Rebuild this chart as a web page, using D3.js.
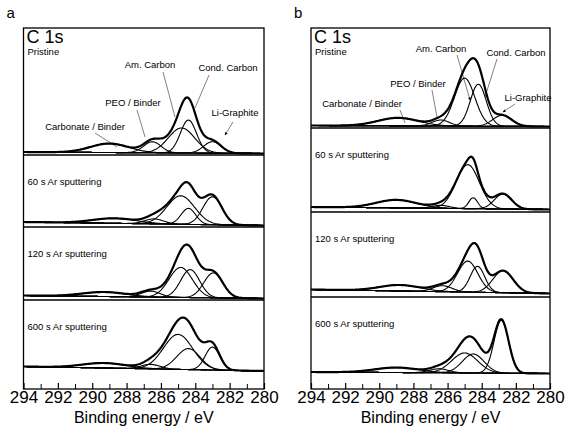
<!DOCTYPE html>
<html>
<head>
<meta charset="utf-8">
<script src="https://cdn.jsdelivr.net/npm/d3@7"></script>
<style>
  body { margin: 0; background: #fff; }
  svg { font-family: "Liberation Sans", Arial, sans-serif; }
</style>
</head>
<body>
<div id="chart"></div>
<script>
// binding energy axis
const majorTicks = [294, 292, 290, 288, 286, 284, 282, 280];
const minorTicks = [293, 291, 289, 287, 285, 283, 281];
const conditions = ["Pristine", "60 s Ar sputtering", "120 s Ar sputtering", "600 s Ar sputtering"];
const componentNames = ["Carbonate / Binder", "PEO / Binder", "Am. Carbon", "Cond. Carbon", "Li-Graphite"];

// fitted components per spectrum: [centre eV, height a.u., FWHM eV], same order as componentNames
const peaksA = [
  [[289.0, 0.9, 2.6], [286.5, 1.1, 1.2], [284.8, 2.5, 1.8], [284.4, 3.3, 1.1], [283.0, 1.15, 1.2]],
  [[288.7, 0.5, 3.0], [286.4, 0.5, 1.3], [284.85, 2.85, 1.9], [284.4, 1.6, 1.0], [283.0, 2.8, 1.3]],
  [[289.3, 0.45, 3.0], [286.6, 0.6, 1.3], [284.85, 3.0, 1.6], [284.3, 2.8, 1.3], [282.95, 2.5, 1.3]],
  [[289.3, 0.5, 3.0], [286.6, 0.45, 1.3], [285.0, 3.5, 2.0], [284.4, 2.1, 1.6], [283.0, 2.3, 1.0]]
];
const peaksB = [
  [[288.9, 0.8, 2.8], [286.4, 0.6, 1.2], [285.0, 4.8, 1.4], [284.2, 4.2, 1.1], [282.8, 1.1, 1.3]],
  [[289.0, 0.8, 2.8], [286.4, 0.3, 1.2], [284.82, 4.4, 1.6], [284.5, 1.1, 0.6], [282.75, 1.5, 1.2]],
  [[288.8, 0.6, 2.8], [286.3, 0.6, 1.3], [284.82, 3.1, 1.4], [284.25, 2.6, 1.0], [282.75, 2.2, 1.4]],
  [[289.0, 0.5, 3.0], [286.5, 0.4, 1.3], [285.0, 2.0, 1.8], [284.5, 1.9, 1.5], [282.85, 5.3, 1.0]]
];
// background level at 294 eV and 280 eV
const backgroundA = [[0.15, 0], [0.35, 0], [0.3, 0], [0.35, -0.1]];
const backgroundB = [[0.1, 0], [0.25, 0], [0.4, 0], [0.1, -0.05]];

const width = 566, height = 435;
const svg = d3.select("#chart").append("svg")
  .attr("width", width)
  .attr("height", height);

const grid = d3.range(294, 279.99, -0.05);

function gauss(e, p) {
  const d = (e - p[0]) / p[2];
  return p[1] * Math.exp(-4 * Math.LN2 * d * d);
}

function drawPanel(opt) {
  const x = d3.scaleLinear().domain([294, 280]).range([opt.left, opt.right]);
  const g = svg.append("g");
  const rows = opt.rows;
  const bottom = rows[rows.length - 1];

  opt.peaks.forEach((comps, i) => {
    const base = opt.baselines[i];
    const y = d3.scaleLinear().domain([0, 10]).range([base, base - 100]);
    const bg = opt.background[i];
    const bgAt = d3.scaleLinear().domain([294, 280]).range(bg);
    const line = d3.line().x(d => x(d[0])).y(d => y(d[1])).curve(d3.curveLinear);

    g.append("path")
      .attr("d", line(grid.map(e => [e, bgAt(e)])))
      .attr("fill", "none").attr("stroke", "#000").attr("stroke-width", 1.1);

    comps.forEach(p => {
      g.append("path")
        .attr("d", line(grid.map(e => [e, bgAt(e) + gauss(e, p)])))
        .attr("fill", "none").attr("stroke", "#000").attr("stroke-width", 1.1);
    });

    const env = grid.map(e => [e, bgAt(e) + d3.sum(comps, p => gauss(e, p))]);
    g.append("path")
      .attr("d", line(env))
      .attr("fill", "none").attr("stroke", "#000").attr("stroke-width", 2.2)
      .attr("stroke-linejoin", "round");

    g.append("text")
      .attr("x", opt.left + 4)
      .attr("y", i === 0 ? rows[0] + 27 : rows[i] + 30)
      .attr("font-size", 9.5)
      .text(conditions[i]);
  });

  // frame and dividers
  g.append("rect")
    .attr("x", opt.left).attr("y", rows[0])
    .attr("width", opt.right - opt.left).attr("height", bottom - rows[0])
    .attr("fill", "none").attr("stroke", "#000").attr("stroke-width", 1.3);
  rows.slice(1, -1).forEach(r => {
    g.append("line")
      .attr("x1", opt.left).attr("x2", opt.right)
      .attr("y1", r).attr("y2", r)
      .attr("stroke", "#000").attr("stroke-width", 1.3);
  });

  g.append("g")
    .attr("transform", `translate(0,${bottom})`)
    .call(d3.axisBottom(x).tickValues(minorTicks).tickSize(-5).tickFormat(""))
    .call(a => a.select(".domain").remove());
  const ax = g.append("g")
    .attr("transform", `translate(0,${bottom})`)
    .call(d3.axisBottom(x).tickValues(majorTicks).tickSize(-6).tickPadding(2).tickFormat(d3.format("d")));
  ax.select(".domain").remove();
  ax.selectAll("text").attr("font-size", 17).attr("font-family", "Liberation Sans, Arial, sans-serif");
  ax.selectAll("line").attr("stroke-width", 1.2);

  g.append("text")
    .attr("x", (opt.left + opt.right) / 2).attr("y", 423)
    .attr("text-anchor", "middle").attr("font-size", 16)
    .text("Binding energy / eV");

  g.append("text")
    .attr("x", opt.left - 17).attr("y", 18)
    .attr("font-size", 15)
    .text(opt.letter);
  g.append("text")
    .attr("x", opt.left + 3).attr("y", rows[0] + 15)
    .attr("font-size", 18)
    .text("C 1s");

  // component annotations on pristine spectrum
  opt.notes.forEach(n => {
    g.append("text")
      .attr("x", n.tx).attr("y", n.ty)
      .attr("text-anchor", "middle").attr("font-size", 9.5)
      .text(n.label);
    g.append("line")
      .attr("x1", n.l[0]).attr("y1", n.l[1]).attr("x2", n.l[2]).attr("y2", n.l[3])
      .attr("stroke", "#000").attr("stroke-width", 0.5)
      .attr("marker-end", n.arrow ? "url(#arr)" : null);
  });
}

svg.append("defs").append("marker")
  .attr("id", "arr").attr("viewBox", "0 0 10 10")
  .attr("refX", 9).attr("refY", 5)
  .attr("markerWidth", 6).attr("markerHeight", 6)
  .attr("orient", "auto")
  .append("path").attr("d", "M0,0L10,5L0,10z").attr("fill", "#000");

drawPanel({
  letter: "a", left: 23.5, right: 264,
  rows: [28, 155, 227, 300, 389],
  baselines: [153.5, 225.5, 298.5, 370],
  peaks: peaksA, background: backgroundA,
  notes: [
    { label: componentNames[2], tx: 150, ty: 68, l: [163, 72, 175, 117] },
    { label: componentNames[3], tx: 228, ty: 71, l: [209, 75, 195, 108] },
    { label: componentNames[1], tx: 133, ty: 106, l: [137, 110, 145, 137] },
    { label: componentNames[4], tx: 235, ty: 116, l: [233, 122, 225, 135], arrow: true },
    { label: componentNames[0], tx: 85, ty: 130, l: [95, 133, 117, 147] }
  ]
});

drawPanel({
  letter: "b", left: 311, right: 550,
  rows: [28, 128, 212, 297, 389],
  baselines: [126.5, 209.5, 293.5, 373],
  peaks: peaksB, background: backgroundB,
  notes: [
    { label: componentNames[2], tx: 441, ty: 52, l: [457, 55, 470, 100], arrow: true },
    { label: componentNames[3], tx: 516, ty: 56, l: [497, 59, 485, 97] },
    { label: componentNames[1], tx: 418, ty: 87, l: [432, 90, 437, 117] },
    { label: componentNames[4], tx: 528, ty: 101, l: [515, 104, 503, 112], arrow: true },
    { label: componentNames[0], tx: 362, ty: 107, l: [400, 110, 405, 123] }
  ]
});
</script>
</body>
</html>
